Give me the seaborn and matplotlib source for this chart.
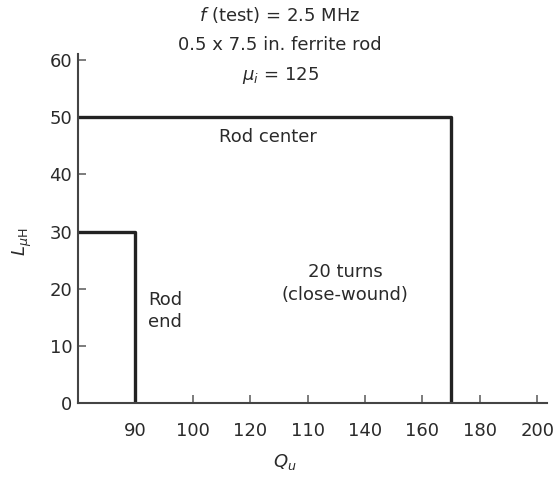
import matplotlib
matplotlib.use("Agg")
import matplotlib.pyplot as plt
import seaborn as sns
import pandas as pd

# ---- data ----
x_tick_labels = ["90", "100", "120", "110", "140", "160", "180", "200"]
y_ticks = [0, 10, 20, 30, 40, 50, 60]

# Q_u (position on tick scale: "90" = 1, "200" = 8) and L (uH)
rod_end_q = [0, 1, 1]
rod_end_l = [30, 30, 0]
rod_center_q = [0, 6.5, 6.5]
rod_center_l = [50, 50, 0]

sns.set_theme(style="white")
plt.rcParams["font.family"] = ["DejaVu Sans"]
plt.rcParams["mathtext.fontset"] = "dejavusans"

fig = plt.figure(figsize=(5.6, 4.79), dpi=100)
ax = fig.add_axes([0.139, 0.1587, 0.977 - 0.139, 0.8866 - 0.1587])

df = pd.concat([
    pd.DataFrame({"Q": rod_end_q, "L": rod_end_l, "curve": "Rod end"}),
    pd.DataFrame({"Q": rod_center_q, "L": rod_center_l, "curve": "Rod center"}),
])
line_color = "#222222"
sns.lineplot(data=df, x="Q", y="L", units="curve", estimator=None, sort=False,
             color=line_color, lw=2.4, ax=ax, legend=False)

ax.set_xlim(0, 8.17)
ax.set_ylim(0, 61)
ax.set_xticks(range(1, 9))
ax.set_xticklabels(x_tick_labels)
ax.set_yticks(y_ticks)
txt_color = "#2a2a2a"
fs = 13
ax.tick_params(axis="both", which="major", bottom=True, left=True, direction="in",
               length=6, width=1.2, colors="#666666", labelcolor=txt_color, labelsize=fs)
ax.tick_params(axis="x", pad=14)
ax.tick_params(axis="y", pad=4)
for s in ["top", "right"]:
    ax.spines[s].set_visible(False)
for s in ["left", "bottom"]:
    ax.spines[s].set_color("#444444")
    ax.spines[s].set_linewidth(1.5)
ax.set_xlabel("")
ax.set_ylabel("")

fig.text(0.5, 0.968, r"$f$ (test) = 2.5 MHz", ha="center", va="center", fontsize=fs, color=txt_color)
fig.text(0.5, 0.906, "0.5 x 7.5 in. ferrite rod", ha="center", va="center", fontsize=fs, color=txt_color)
fig.text(0.5, 0.843, r"$\mu_i$ = 125", ha="center", va="center", fontsize=fs, color=txt_color)

fig.text(268 / 560, 1 - 137 / 479, "Rod center", ha="center", va="center", fontsize=fs, color=txt_color)
fig.text(345 / 560, 1 - 272 / 479, "20 turns", ha="center", va="center", fontsize=fs, color=txt_color)
fig.text(345 / 560, 1 - 295 / 479, "(close-wound)", ha="center", va="center", fontsize=fs, color=txt_color)
fig.text(148 / 560, 1 - 300 / 479, "Rod", ha="left", va="center", fontsize=fs, color=txt_color)
fig.text(148 / 560, 1 - 322 / 479, "end", ha="left", va="center", fontsize=fs, color=txt_color)

fig.text(22 / 560, 1 - 242 / 479, r"$L_{\mu\mathrm{H}}$", ha="center", va="center",
         rotation=90, fontsize=fs, color=txt_color)
fig.text(285 / 560, 1 - 462 / 479, r"$Q_u$", ha="center", va="center", fontsize=fs, color=txt_color)

fig.savefig("out.png", dpi=100, facecolor="white")
